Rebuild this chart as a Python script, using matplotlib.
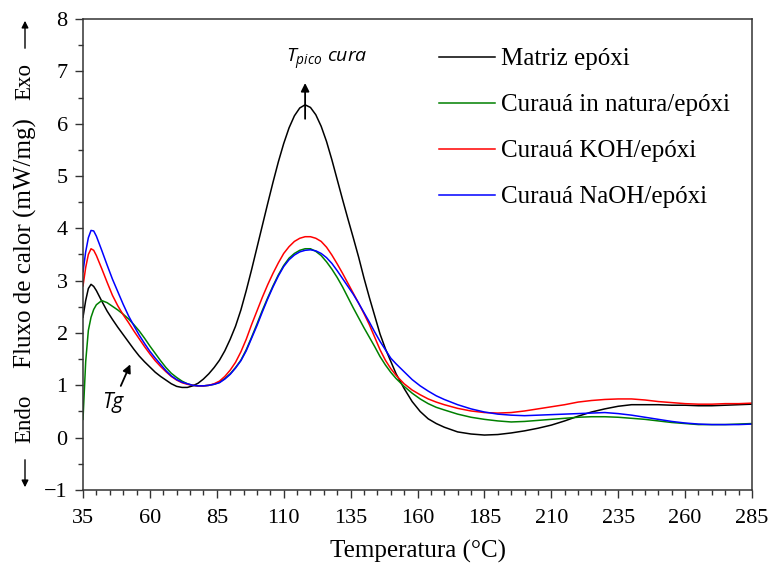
import matplotlib
matplotlib.use('Agg')
import matplotlib.pyplot as plt
from matplotlib.ticker import MultipleLocator

plt.rcParams['font.family'] = ['Liberation Serif', 'DejaVu Serif']
plt.rcParams['mathtext.fontset'] = 'custom'
plt.rcParams['mathtext.it'] = 'Open Sans:italic'
plt.rcParams['mathtext.rm'] = 'Open Sans'

# temperatura (C)
temp = [35, 36, 37, 38, 39, 40, 42, 44, 46, 48, 50, 52, 54, 56, 58, 60, 62, 64, 66, 68,
        70, 72, 74, 76, 78, 80, 82, 84, 86, 88, 90, 92, 94, 96, 98, 100, 102, 104, 106, 108,
        110, 112, 114, 116, 118, 120, 122, 124, 126, 128, 130, 132, 134, 136, 138, 140, 142,
        144, 146, 148, 150, 152, 155, 158, 161, 164, 167, 170, 175, 180, 185, 190, 195, 200,
        205, 210, 215, 220, 225, 230, 235, 240, 245, 250, 255, 260, 265, 270, 275, 280, 285]

matriz = [2.30, 2.62, 2.85, 2.93, 2.89, 2.81, 2.61, 2.42, 2.26, 2.11, 1.97, 1.83, 1.69, 1.56,
          1.45, 1.35, 1.25, 1.17, 1.10, 1.03, 0.98, 0.96, 0.96, 0.99, 1.04, 1.12, 1.22, 1.34,
          1.48, 1.66, 1.88, 2.13, 2.44, 2.81, 3.21, 3.63, 4.05, 4.47, 4.88, 5.27, 5.62, 5.92,
          6.15, 6.30, 6.36, 6.31, 6.17, 5.95, 5.66, 5.31, 4.93, 4.55, 4.18, 3.82, 3.45, 3.05,
          2.68, 2.33, 1.98, 1.70, 1.46, 1.22, 0.94, 0.69, 0.50, 0.36, 0.27, 0.20, 0.11, 0.07,
          0.05, 0.06, 0.09, 0.13, 0.18, 0.24, 0.32, 0.41, 0.49, 0.55, 0.60, 0.63, 0.63, 0.63,
          0.62, 0.62, 0.61, 0.61, 0.62, 0.63, 0.64]

natura = [0.35, 1.45, 2.05, 2.30, 2.45, 2.54, 2.62, 2.58, 2.51, 2.44, 2.36, 2.27, 2.16, 2.04,
          1.90, 1.75, 1.61, 1.47, 1.34, 1.23, 1.15, 1.08, 1.03, 1.00, 0.99, 0.99, 1.00, 1.02,
          1.06, 1.13, 1.22, 1.34, 1.48, 1.68, 1.92, 2.17, 2.43, 2.67, 2.90, 3.11, 3.29, 3.43,
          3.52, 3.58, 3.61, 3.61, 3.56, 3.48, 3.36, 3.22, 3.06, 2.88, 2.68, 2.48, 2.29, 2.10,
          1.92, 1.74, 1.55, 1.39, 1.25, 1.13, 0.98, 0.85, 0.74, 0.65, 0.58, 0.53, 0.45, 0.39,
          0.35, 0.32, 0.30, 0.31, 0.33, 0.35, 0.37, 0.39, 0.40, 0.40, 0.39, 0.37, 0.35, 0.32,
          0.29, 0.27, 0.25, 0.25, 0.25, 0.26, 0.27]

koh = [2.90, 3.25, 3.50, 3.61, 3.58, 3.48, 3.23, 2.97, 2.72, 2.52, 2.35, 2.20, 2.04, 1.89,
       1.74, 1.60, 1.47, 1.36, 1.26, 1.17, 1.10, 1.05, 1.02, 1.00, 0.99, 0.99, 1.00, 1.03,
       1.08, 1.17, 1.29, 1.44, 1.64, 1.88, 2.16, 2.42, 2.68, 2.92, 3.14, 3.34, 3.52, 3.65,
       3.75, 3.81, 3.84, 3.84, 3.81, 3.75, 3.64, 3.49, 3.32, 3.14, 2.95, 2.76, 2.57, 2.37,
       2.16, 1.92, 1.68, 1.48, 1.32, 1.19, 1.03, 0.91, 0.82, 0.74, 0.68, 0.63, 0.56, 0.51,
       0.48, 0.47, 0.48, 0.51, 0.55, 0.59, 0.63, 0.68, 0.71, 0.73, 0.74, 0.74, 0.72, 0.69,
       0.67, 0.65, 0.64, 0.64, 0.65, 0.65, 0.66]

naoh = [3.17, 3.55, 3.82, 3.96, 3.95, 3.85, 3.58, 3.30, 3.03, 2.79, 2.55, 2.33, 2.14, 1.96,
        1.80, 1.65, 1.52, 1.40, 1.28, 1.18, 1.11, 1.06, 1.03, 1.00, 0.99, 0.99, 1.00, 1.02,
        1.05, 1.12, 1.21, 1.33, 1.47, 1.66, 1.90, 2.14, 2.40, 2.65, 2.88, 3.09, 3.27, 3.40,
        3.49, 3.55, 3.58, 3.59, 3.57, 3.52, 3.44, 3.33, 3.19, 3.04, 2.89, 2.74, 2.57, 2.39,
        2.21, 2.02, 1.84, 1.68, 1.52, 1.41, 1.26, 1.11, 0.99, 0.89, 0.80, 0.73, 0.63, 0.55,
        0.49, 0.45, 0.43, 0.42, 0.43, 0.44, 0.45, 0.46, 0.47, 0.48, 0.46, 0.43, 0.39, 0.35,
        0.31, 0.28, 0.26, 0.25, 0.25, 0.25, 0.26]

labels = ['Matriz epóxi', 'Curauá in natura/epóxi', 'Curauá KOH/epóxi', 'Curauá NaOH/epóxi']
cores = ['#000000', '#008000', '#ff0000', '#0000ff']
xticks = [35, 60, 85, 110, 135, 160, 185, 210, 235, 260, 285]

W, H = 771, 568
fig = plt.figure(figsize=(W / 100, H / 100), dpi=100)
ax = fig.add_axes([83 / W, 1 - 490 / H, (752 - 83) / W, (490 - 19) / H])

for serie, lab, cor in zip([matriz, natura, koh, naoh], labels, cores):
    ax.plot(temp, serie, color=cor, lw=1.1, label=lab)

ax.set_xlim(35, 285)
ax.set_ylim(-1, 8)
ax.set_xticks(xticks)
ax.xaxis.set_minor_locator(MultipleLocator(5))
ax.yaxis.set_major_locator(MultipleLocator(1))
ax.yaxis.set_minor_locator(MultipleLocator(0.5))
ax.tick_params(axis='x', which='major', pad=8)
ax.tick_params(axis='y', which='major', pad=5)
ax.tick_params(which='major', length=6, width=1, color='#333333', labelsize=16)
ax.tick_params(which='minor', length=3.6, width=1, color='#333333')
for s in ax.spines.values():
    s.set_color('#333333')
    s.set_linewidth(1.1)

# rotulos dos eixos
fig.text(418 / W, 1 - 551 / H, 'Temperatura (°C)', fontsize=18, ha='center', va='center')
fig.text(25 / W, 1 - 118 / H, 'Fluxo de calor (mW/mg)', rotation=90, fontsize=18,
         ha='center', va='top')
fig.text(25 / W, 1 - 81 / H, 'Exo', rotation=90, fontsize=16.5, ha='center', va='center')
fig.text(25 / W, 1 - 419 / H, 'Endo', rotation=90, fontsize=16.5, ha='center', va='center')
ax.annotate('', xy=(25, H - 18), xytext=(25, H - 51), xycoords='figure pixels',
            textcoords='figure pixels',
            arrowprops=dict(arrowstyle='-|>', color='k', lw=1, mutation_scale=10))
ax.annotate('', xy=(25, H - 490), xytext=(25, H - 457), xycoords='figure pixels',
            textcoords='figure pixels',
            arrowprops=dict(arrowstyle='-|>', color='k', lw=1, mutation_scale=10))

# anotacoes
ax.annotate('', xy=(118.0, 6.83), xytext=(118.0, 6.04),
            arrowprops=dict(arrowstyle='-|>', color='k', lw=1.3, mutation_scale=12))
ax.text(126.2, 7.16, r'$T_{pico}\ cura$', fontsize=14, ha='center', va='baseline')
ax.annotate('', xy=(53.1, 1.45), xytext=(48.7, 0.94),
            arrowprops=dict(arrowstyle='-|>', color='k', lw=1.3, mutation_scale=12))
ax.text(46.1, 0.57, 'Tg', fontsize=15, family='Open Sans', style='italic',
        ha='center', va='baseline')

fs = 18
fpx = fs * 100 / 72
leg = ax.legend(loc='upper left',
                bbox_to_anchor=((439 - 0.4 * fpx - 83) / (752 - 83), 1 - (38 - 19) / (490 - 19)),
                frameon=False, fontsize=fs, handlelength=56 / fpx, handletextpad=0.22,
                labelspacing=0.94, borderaxespad=0)

fig.savefig('out.png', dpi=100)
